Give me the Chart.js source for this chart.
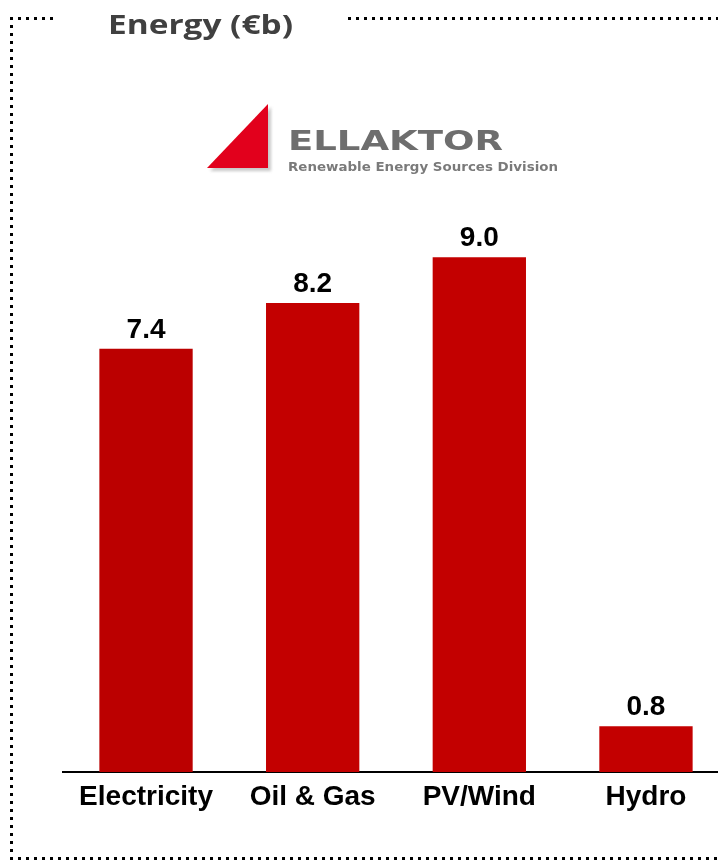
<!DOCTYPE html>
<html>
<head>
<meta charset="utf-8">
<title>Energy (€b)</title>
<script src="https://cdn.jsdelivr.net/npm/chart.js@4.4.1/dist/chart.umd.min.js"></script>
<style>
  html, body { margin: 0; padding: 0; background: #ffffff; overflow: hidden; }
  #stage { position: relative; width: 718px; height: 861px; overflow: hidden; }
  #plot { position: absolute; left: 0; top: 0; width: 740px; height: 861px; }
  #deco { position: absolute; left: 0; top: 0; width: 718px; height: 861px; pointer-events: none; }
</style>
</head>
<body>
<div id="stage">
  <div id="plot"><canvas id="chart"></canvas></div>
  <svg id="deco" width="718" height="861" xmlns="http://www.w3.org/2000/svg">
    <defs>
      <filter id="soft" x="-10%" y="-10%" width="120%" height="120%">
        <feGaussianBlur stdDeviation="0.45"/>
      </filter>
      <filter id="shade" x="-20%" y="-20%" width="140%" height="140%">
        <feGaussianBlur stdDeviation="1.6"/>
      </filter>
    </defs>
    <!-- dotted frame around the panel -->
    <g stroke="#000" stroke-width="3" stroke-dasharray="3 5" fill="none">
      <line x1="10" y1="18.5" x2="58" y2="18.5"/>
      <line x1="348" y1="18.5" x2="718" y2="18.5"/>
      <line x1="11.5" y1="17" x2="11.5" y2="861"/>
      <line x1="10" y1="858.5" x2="718" y2="858.5"/>
    </g>
    <!-- panel heading -->
    <text x="108" y="34" font-family="'Open Sans', Lato, sans-serif" font-weight="700"
          font-size="27" fill="#404040" textLength="185" lengthAdjust="spacingAndGlyphs">Energy (€b)</text>
    <!-- company mark -->
    <g filter="url(#soft)">
      <polygon points="210,171 271,107 271,171" fill="#9a9a9a" opacity="0.55" filter="url(#shade)"/>
      <polygon points="207,168 268,104 268,168" fill="#e2001a"/>
      <text x="288" y="150" font-family="'DejaVu Sans', sans-serif" font-weight="700" font-size="27"
            fill="#6e6e6e" textLength="215" lengthAdjust="spacingAndGlyphs">ELLAKTOR</text>
      <text x="288" y="171" font-family="'DejaVu Sans', sans-serif" font-weight="700" font-size="11.5"
            fill="#7a7a7a" textLength="270" lengthAdjust="spacingAndGlyphs">Renewable Energy Sources Division</text>
    </g>
  </svg>
</div>
<script>
// Sector values, € billions
const categories = ['Electricity', 'Oil & Gas', 'PV/Wind', 'Hydro'];
const values = [7.4, 8.2, 9.0, 0.8];
const barColors = ['#bb0000', '#c30000', '#c30000', '#c30000'];

// Writes each bar's value just above it
const valueLabelPlugin = {
  id: 'valueLabels',
  afterDatasetsDraw(chart) {
    const ctx = chart.ctx;
    const meta = chart.getDatasetMeta(0);
    ctx.save();
    ctx.font = 'bold 28px "Liberation Sans", Arial, sans-serif';
    ctx.fillStyle = '#000000';
    ctx.textAlign = 'center';
    ctx.textBaseline = 'alphabetic';
    meta.data.forEach((bar, i) => {
      ctx.fillText(values[i].toFixed(1), bar.x, bar.y - 11);
    });
    ctx.restore();
  }
};

new Chart(document.getElementById('chart'), {
  type: 'bar',
  data: {
    labels: categories,
    datasets: [{
      data: values,
      backgroundColor: barColors,
      borderWidth: 0,
      categoryPercentage: 1.0,
      barPercentage: 0.56
    }]
  },
  options: {
    responsive: true,
    maintainAspectRatio: false,
    devicePixelRatio: 1,
    animation: false,
    layout: { padding: { left: 62.7, right: 10.7, top: 85.5, bottom: 39.4 } },
    plugins: {
      legend: { display: false },
      tooltip: { enabled: false },
      title: { display: false }
    },
    scales: {
      x: {
        grid: { display: false, drawTicks: false },
        border: { display: true, color: '#000000', width: 2 },
        ticks: {
          color: '#000000',
          padding: 8,
          font: { family: '"Liberation Sans", Arial, sans-serif', size: 28, weight: 'bold' }
        }
      },
      y: {
        display: false,
        min: 0,
        max: 12
      }
    }
  },
  plugins: [valueLabelPlugin]
});
</script>
</body>
</html>
